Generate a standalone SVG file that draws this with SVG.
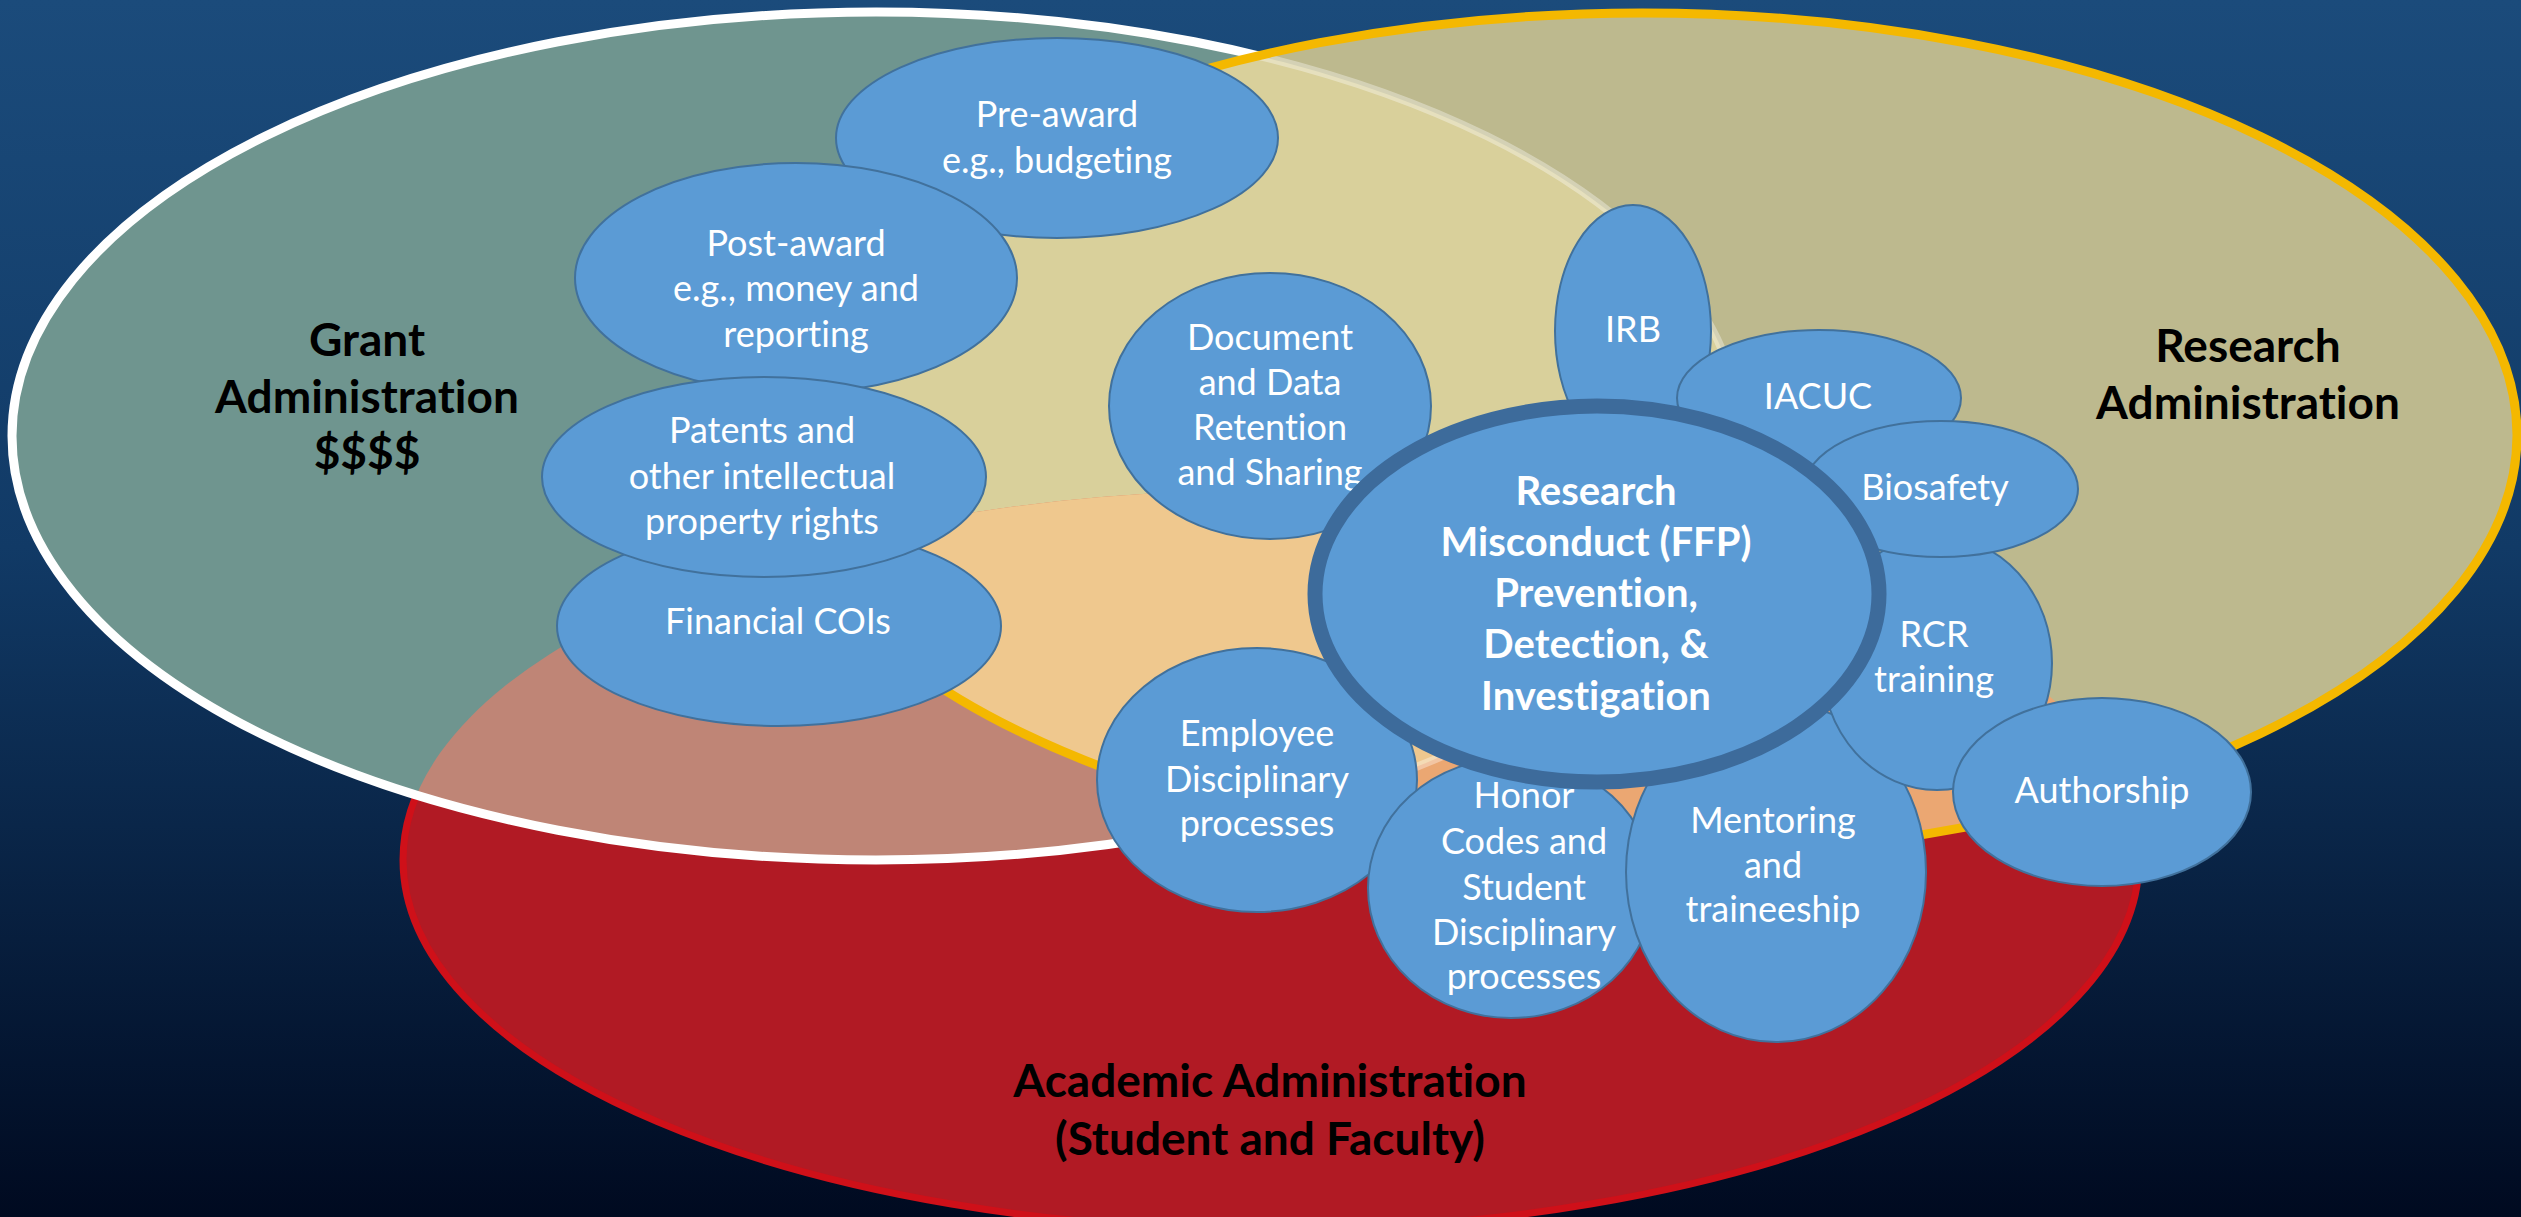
<svg xmlns="http://www.w3.org/2000/svg" width="2521" height="1217" viewBox="0 0 2521 1217">
<style>
text{font-variant-ligatures:none;font-feature-settings:"liga" 0,"clig" 0}
.node{fill:#5b9bd5;stroke:#41719c;stroke-width:2}
.core{fill:#5b9bd5;stroke:#3d6b9b;stroke-width:15}
.nt{font-family:Lato,"Liberation Sans",sans-serif;font-size:36px;fill:#ffffff;text-anchor:middle}
.ct{font-family:Lato,"Liberation Sans",sans-serif;font-size:40px;font-weight:bold;fill:#ffffff;text-anchor:middle}
.rl{font-family:Lato,"Liberation Sans",sans-serif;font-size:46px;font-weight:bold;fill:#000000;text-anchor:middle}
</style>
<defs>
<linearGradient id="bg" x1="0" y1="0" x2="0" y2="1">
<stop offset="0" stop-color="#1b4b7b"/>
<stop offset="0.45" stop-color="#113a66"/>
<stop offset="1" stop-color="#000a20"/>
</linearGradient>
<clipPath id="cG"><ellipse cx="876" cy="436" rx="864" ry="424"/></clipPath>
<clipPath id="cR"><ellipse cx="1642" cy="435" rx="875" ry="422"/></clipPath>
<mask id="outR"><rect width="2521" height="1217" fill="#fff"/><ellipse cx="1642" cy="435" rx="875" ry="422" fill="#000"/></mask>
</defs>
<rect width="2521" height="1217" fill="url(#bg)"/>
<g id="regions">
<ellipse id="academic" cx="1271" cy="860" rx="868" ry="370" fill="#b11a24" stroke="#cf1019" stroke-width="7"/>
<ellipse id="grant" cx="876" cy="436" rx="864" ry="424" fill="#6f958f"/>
<ellipse id="research" cx="1642" cy="435" rx="875" ry="422" fill="#bdb98e"/>
<ellipse cx="1642" cy="435" rx="875" ry="422" fill="#d9d09b" clip-path="url(#cG)"/>
<ellipse cx="1271" cy="860" rx="868" ry="370" fill="#bf8576" clip-path="url(#cG)"/>
<ellipse cx="1271" cy="860" rx="868" ry="370" fill="#eba772" clip-path="url(#cR)"/>
<g clip-path="url(#cG)"><ellipse cx="1271" cy="860" rx="868" ry="370" fill="#efc88e" clip-path="url(#cR)"/></g>
<ellipse cx="876" cy="436" rx="864" ry="424" fill="none" stroke="#ffffff" stroke-width="9" mask="url(#outR)"/>
<ellipse cx="876" cy="436" rx="864" ry="424" fill="none" stroke="#ffffff" stroke-opacity="0.35" stroke-width="8" clip-path="url(#cR)"/>
<ellipse cx="1642" cy="435" rx="875" ry="422" fill="none" stroke="#f4b800" stroke-width="9"/>
<text class="rl" x="367" y="356">Grant</text>
<text class="rl" x="367" y="413">Administration</text>
<text class="rl" x="367" y="469">$$$$</text>
<text class="rl" x="2248" y="362">Research</text>
<text class="rl" x="2248" y="419">Administration</text>
<text class="rl" x="1270" y="1097">Academic Administration</text>
<text class="rl" x="1270" y="1155">(Student and Faculty)</text>
</g>
<g id="connectors"></g>
<g id="preaward"><ellipse class="node" cx="1057" cy="138" rx="221" ry="100"/><text class="nt" x="1057" y="127">Pre-award</text><text class="nt" x="1057" y="173">e.g., budgeting</text></g>
<g id="postaward"><ellipse class="node" cx="796" cy="278" rx="221" ry="115"/><text class="nt" x="796" y="256">Post-award</text><text class="nt" x="796" y="301">e.g., money and</text><text class="nt" x="796" y="347">reporting</text></g>
<g id="financial"><ellipse class="node" cx="779" cy="626" rx="222" ry="100"/><text class="nt" x="778" y="634">Financial COIs</text></g>
<g id="patents"><ellipse class="node" cx="764" cy="477" rx="222" ry="100"/><text class="nt" x="762" y="443">Patents and</text><text class="nt" x="762" y="489">other intellectual</text><text class="nt" x="762" y="534">property rights</text></g>
<g id="document"><ellipse class="node" cx="1270" cy="406" rx="161" ry="133"/><text class="nt" x="1270" y="350">Document</text><text class="nt" x="1270" y="395">and Data</text><text class="nt" x="1270" y="440">Retention</text><text class="nt" x="1270" y="485">and Sharing</text></g>
<g id="irb"><ellipse class="node" cx="1633" cy="331" rx="78" ry="126"/><text class="nt" x="1633" y="342">IRB</text></g>
<g id="iacuc"><ellipse class="node" cx="1819" cy="398" rx="142" ry="68"/><text class="nt" x="1818" y="409">IACUC</text></g>
<g id="employee"><ellipse class="node" cx="1257" cy="780" rx="160" ry="132"/><text class="nt" x="1257" y="746">Employee</text><text class="nt" x="1257" y="792">Disciplinary</text><text class="nt" x="1257" y="836">processes</text></g>
<g id="honor"><ellipse class="node" cx="1511" cy="888" rx="143" ry="130"/><text class="nt" x="1524" y="808">Honor</text><text class="nt" x="1524" y="854">Codes and</text><text class="nt" x="1524" y="900">Student</text><text class="nt" x="1524" y="945">Disciplinary</text><text class="nt" x="1524" y="989">processes</text></g>
<g id="mentoring"><ellipse class="node" cx="1776" cy="872" rx="150" ry="170"/><text class="nt" x="1773" y="833">Mentoring</text><text class="nt" x="1773" y="878">and</text><text class="nt" x="1773" y="922">traineeship</text></g>
<g id="rcr"><ellipse class="node" cx="1937" cy="663" rx="115" ry="127"/><text class="nt" x="1934" y="647">RCR</text><text class="nt" x="1934" y="692">training</text></g>
<g id="biosafety"><ellipse class="node" cx="1941" cy="489" rx="137" ry="68"/><text class="nt" x="1935" y="500">Biosafety</text></g>
<g id="authorship"><ellipse class="node" cx="2102" cy="792" rx="149" ry="94"/><text class="nt" x="2102" y="803">Authorship</text></g>
<g id="central"><ellipse class="core" cx="1597" cy="594" rx="282" ry="188"/><text class="ct" x="1596" y="505">Research</text><text class="ct" x="1596" y="556">Misconduct (FFP)</text><text class="ct" x="1596" y="607">Prevention,</text><text class="ct" x="1596" y="658">Detection, &amp;</text><text class="ct" x="1596" y="710">Investigation</text></g>
</svg>
